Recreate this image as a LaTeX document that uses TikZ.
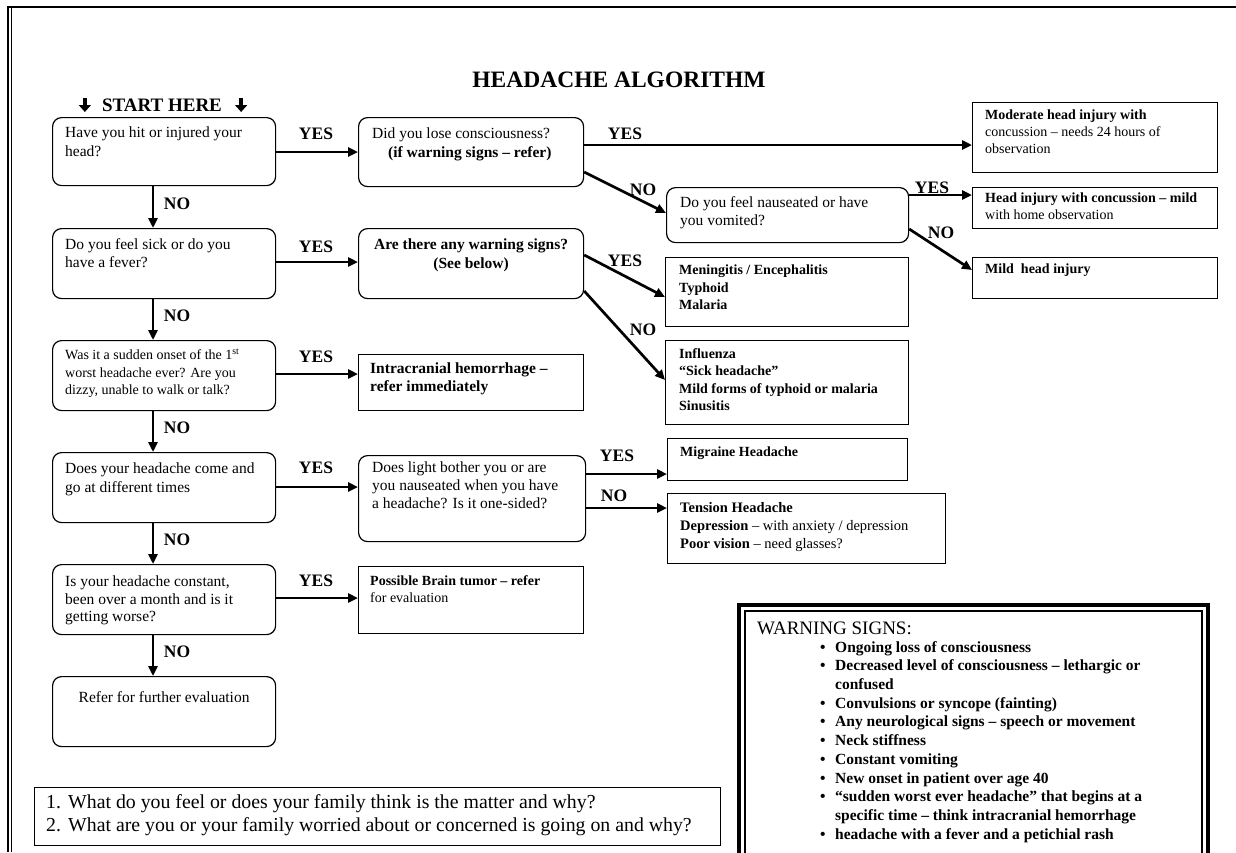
\documentclass[tikz,border=0pt]{standalone}
\usepackage{fontspec}
\setmainfont{Liberation Serif}
\usetikzlibrary{arrows.meta,calc}

\newcommand\fsz[2]{\fontsize{#1}{#2}\selectfont}
\newcommand\wsb{\makebox[15pt][l]{\textbullet}}
\newcommand\wsi{\hspace*{15pt}}

\tikzset{
  qbox/.style={draw, line width=1.2pt, rounded corners=9pt, inner sep=0pt, anchor=north west},
  rbox/.style={draw, line width=1.4pt, inner sep=0pt, anchor=north west},
  txt/.style={inner sep=0pt, anchor=north west, align=left, font=\fsz{15.5}{18.5}},
  stxt/.style={inner sep=0pt, anchor=north west, align=left, font=\fsz{14}{17.5}},
  btxt/.style={stxt, font=\bfseries\fsz{14}{17.5}},
  flow/.style={line width=2.7pt, -{Triangle[length=10pt,width=9pt]}},
  lab/.style={inner sep=0pt, font=\bfseries\fsz{17.5}{20}},
  startarrow/.style={line width=3.6pt, -{Triangle[length=7pt,width=12pt]}},
}

\begin{document}
\begin{tikzpicture}[x=1pt,y=-1pt]
\useasboundingbox (0,0) rectangle (1236,852);
\clip (0,0) rectangle (1236,852);

% page frame
\draw[line width=2.4pt] (9,7) -- (1236,7);
\draw[line width=1.3pt] (8,6) -- (8,852);
\draw[line width=1.3pt] (11.5,8) -- (11.5,852);

% headings
\node[inner sep=0pt, font=\bfseries\fsz{23.5}{26}] (title) at (619,80) {HEADACHE ALGORITHM};
\node[inner sep=0pt, font=\bfseries\fsz{19}{22}] (st) at (162,105) {START HERE};
\draw[startarrow] ([xshift=-17pt,yshift=7pt]st.west) -- ++(0,14);
\draw[startarrow] ([xshift=19pt,yshift=7pt]st.east) -- ++(0,14);

% left column of questions
\node[qbox, minimum width=223pt, minimum height=68pt] (b1) at (52,117) {};
\node[txt] (b1t) at ([shift={(13,10)}]b1.north west) {Have you hit or injured your\\head?};
\node[qbox, minimum width=223pt, minimum height=70pt] (b2) at (52,228) {};
\node[txt] (b2t) at ([shift={(13,10)}]b2.north west) {Do you feel sick or do you\\have a fever?};
\node[qbox, minimum width=223pt, minimum height=70pt] (b3) at (52,340) {};
\node[stxt] (b3t) at ([shift={(13,9)}]b3.north west) {Was it a sudden onset of the 1\textsuperscript{st}\\worst headache ever? Are you\\dizzy, unable to walk or talk?};
\node[qbox, minimum width=223pt, minimum height=70pt] (b4) at (52,452) {};
\node[txt] (b4t) at ([shift={(13,11)}]b4.north west) {Does your headache come and\\go at different times};
\node[qbox, minimum width=223pt, minimum height=70pt] (b5) at (52,564) {};
\node[txt, font=\fsz{15.5}{17.5}] (b5t) at ([shift={(13,12)}]b5.north west) {Is your headache constant,\\been over a month and is it\\getting worse?};
\node[qbox, minimum width=223pt, minimum height=70pt] (b6) at (52,676) {};
\node[txt, anchor=north] (b6t) at ([yshift=-15pt]b6.north) {Refer for further evaluation};

% middle column
\node[qbox, minimum width=225pt, minimum height=69pt] (m1) at (358,117) {};
\node[txt] (m1t) at ([shift={(14,11)}]m1.north west) {Did you lose consciousness?\\\hspace*{16pt}\textbf{(if warning signs -- refer)}};
\node[qbox, minimum width=225pt, minimum height=70pt] (m2) at (358,228) {};
\node[txt, anchor=north, align=center, font=\bfseries\fsz{15.5}{18.5}] (m2t) at ([yshift=-11pt]m2.north) {Are there any warning signs?\\(See below)};
\node[rbox, minimum width=225pt, minimum height=56pt] (m3) at (358,354) {};
\node[txt, font=\bfseries\fsz{15.5}{18}] (m3t) at ([shift={(12,9)}]m3.north west) {Intracranial hemorrhage --\\refer immediately};
\node[qbox, minimum width=227pt, minimum height=86pt] (m4) at (358,455) {};
\node[txt, font=\fsz{15.5}{18}] (m4t) at ([shift={(14,7)}]m4.north west) {Does light bother you or are\\you nauseated when you have\\a headache? Is it one-sided?};
\node[rbox, minimum width=225pt, minimum height=67pt] (tum) at (358,566) {};
\node[stxt] (tumt) at ([shift={(12,9)}]tum.north west) {\textbf{Possible Brain tumor -- refer}\\for evaluation};

% second-level question
\node[qbox, minimum width=242pt, minimum height=55pt] (m5) at (666,187) {};
\node[txt, font=\fsz{15.5}{18}] (m5t) at ([shift={(14,9)}]m5.north west) {Do you feel nauseated or have\\you vomited?};

% outcome boxes
\node[rbox, minimum width=245pt, minimum height=70pt] (r1) at (972,102) {};
\node[stxt, font=\fsz{14}{17}] (r1t) at ([shift={(13,8)}]r1.north west) {\textbf{Moderate head injury with}\\concussion -- needs 24 hours of\\observation};
\node[rbox, minimum width=245pt, minimum height=41pt] (r2) at (972,187) {};
\node[stxt, font=\fsz{14}{16.5}] (r2t) at ([shift={(13,6)}]r2.north west) {\textbf{Head injury with concussion -- mild}\\with home observation};
\node[rbox, minimum width=245pt, minimum height=41pt] (r3) at (972,257) {};
\node[btxt] (r3t) at ([shift={(13,7)}]r3.north west) {Mild\ \ head injury};
\node[rbox, minimum width=243pt, minimum height=69pt] (mg) at (665,257) {};
\node[btxt] (mgt) at ([shift={(14,8)}]mg.north west) {Meningitis / Encephalitis\\Typhoid\\Malaria};
\node[rbox, minimum width=243pt, minimum height=84pt] (inf) at (665,340) {};
\node[btxt] (inft) at ([shift={(14,8)}]inf.north west) {Influenza\\``Sick headache''\\Mild forms of typhoid or malaria\\Sinusitis};
\node[rbox, minimum width=240pt, minimum height=42pt] (mig) at (667,438) {};
\node[btxt] (migt) at ([shift={(13,9)}]mig.north west) {Migraine Headache};
\node[rbox, minimum width=278pt, minimum height=70pt] (ten) at (667,493) {};
\node[stxt, font=\fsz{14.5}{18}] (tent) at ([shift={(13,9)}]ten.north west) {\textbf{Tension Headache}\\\textbf{Depression} -- with anxiety / depression\\\textbf{Poor vision} -- need glasses?};

% connectors from the left column
\draw[flow] (b1.east |- 0,152) -- (m1.west |- 0,152);
\draw[flow] (b2.east |- 0,262) -- (m2.west |- 0,262);
\draw[flow] (b3.east |- 0,374) -- (m3.west |- 0,374);
\draw[flow] (b4.east |- 0,487) -- (m4.west |- 0,487);
\draw[flow] (b5.east |- 0,598) -- (tum.west |- 0,598);
\draw[flow] ([xshift=101pt]b1.south west) -- ([xshift=101pt]b2.north west);
\draw[flow] ([xshift=101pt]b2.south west) -- ([xshift=101pt]b3.north west);
\draw[flow] ([xshift=101pt]b3.south west) -- ([xshift=101pt]b4.north west);
\draw[flow] ([xshift=101pt]b4.south west) -- ([xshift=101pt]b5.north west);
\draw[flow] ([xshift=101pt]b5.south west) -- ([xshift=101pt]b6.north west);

% connectors from the middle column
\draw[flow] (m1.east |- 0,145) -- (r1.west |- 0,145);
\draw[flow] (m1.east |- 0,172) -- (m5.west |- 0,213);
\draw[flow] (m5.east |- 0,195) -- (r2.west |- 0,195);
\draw[flow] (m5.east |- 0,229) -- (r3.west |- 0,270);
\draw[flow] (m2.east |- 0,255) -- (mg.west |- 0,297);
\draw[flow] (m2.east |- 0,291) -- (inf.west |- 0,380);
\draw[flow] (m4.east |- 0,474) -- (mig.west |- 0,474);
\draw[flow] (m4.east |- 0,508) -- (ten.west |- 0,508);

% YES / NO labels
\node[lab] (y1) at (316,134) {YES};
\node[lab] (y2) at (316,247) {YES};
\node[lab] (y3) at (316,357) {YES};
\node[lab] (y4) at (316,468) {YES};
\node[lab] (y5) at (316,581) {YES};
\node[lab] (n1) at (177,204) {NO};
\node[lab] (n2) at (177,316) {NO};
\node[lab] (n3) at (177,428) {NO};
\node[lab] (n4) at (177,540) {NO};
\node[lab] (n5) at (177,652) {NO};
\node[lab] (ya) at (625,134) {YES};
\node[lab] (na) at (643,190) {NO};
\node[lab] (yb) at (932,188) {YES};
\node[lab] (nb) at (941,233) {NO};
\node[lab] (yc) at (625,261) {YES};
\node[lab] (nc) at (643,330) {NO};
\node[lab] (yd) at (617,456) {YES};
\node[lab] (nd) at (614,496) {NO};

% warning signs panel
\draw[line width=4pt] (739,605) rectangle (1208,880);
\draw[line width=1.2pt] (745,611) rectangle (1202,880);
\node[inner sep=0pt, anchor=west, font=\fsz{19}{22}] (wtitle) at (757,628) {WARNING SIGNS:};
\node[inner sep=0pt, anchor=north west, align=left, font=\bfseries\fsz{15.5}{18.7}] (wlist) at (820,641) {%
\wsb Ongoing loss of consciousness\\
\wsb Decreased level of consciousness -- lethargic or\\
\wsi confused\\
\wsb Convulsions or syncope (fainting)\\
\wsb Any neurological signs -- speech or movement\\
\wsb Neck stiffness\\
\wsb Constant vomiting\\
\wsb New onset in patient over age 40\\
\wsb ``sudden worst ever headache'' that begins at a\\
\wsi specific time -- think intracranial hemorrhage\\
\wsb headache with a fever and a petichial rash};

% closing questions
\node[rbox, minimum width=686pt, minimum height=58pt] (qs) at (34,787) {};
\node[txt, font=\fsz{19.8}{23}] (qst) at ([shift={(12,7)}]qs.north west) {\makebox[22pt][l]{1.}What do you feel or does your family think is the matter and why?\\\makebox[22pt][l]{2.}What are you or your family worried about or concerned is going on and why?};
\end{tikzpicture}
\end{document}
